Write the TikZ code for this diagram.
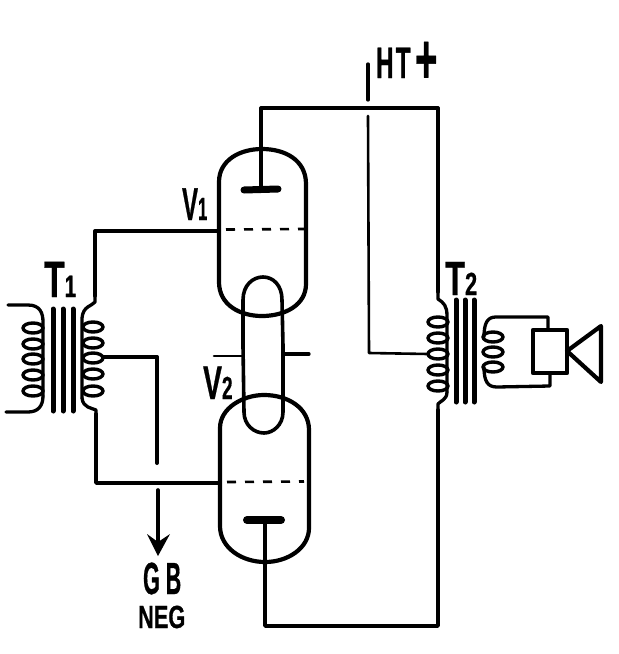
\documentclass[tikz,border=0pt]{standalone}
\usepackage{fontspec}
\usetikzlibrary{shapes.geometric}
\setmainfont{Liberation Sans}[BoldFeatures={FakeBold=0.8}]
\newcommand{\fs}[1]{\fontsize{#1}{#1}\selectfont}
\begin{document}
\begin{tikzpicture}[x=1pt,y=-1pt,line join=round,line cap=round,
  wire/.style={draw=black,line width=3.3pt},
  thin wire/.style={draw=black,line width=2.6pt},
  envelope/.style={draw=black,line width=4.2pt},
  electrode/.style={draw=black,line width=7pt,line cap=round},
  gridline/.style={draw=black,line width=2.6pt,dash pattern=on 9pt off 9pt,line cap=butt},
  corebar/.style={draw=black,line width=5pt},
  coilloop/.style={draw=black,line width=3.4pt,ellipse,inner sep=0pt,minimum width=20pt,minimum height=10pt},
  lab/.style={inner sep=0pt,anchor=base west,text=black}]
\useasboundingbox (0,0) rectangle (619,654);
\fill[white] (0,0) rectangle (619,654);

% named junctions
\coordinate (htTop) at (368,64);
\coordinate (htGapA) at (368,100);
\coordinate (htGapB) at (368,116);
\coordinate (htTap) at (369,353);
\coordinate (a1Top) at (261,108);
\coordinate (otTop) at (438,108);
\coordinate (otUp) at (438,292);
\coordinate (otLow) at (438,410);
\coordinate (otBot) at (438,626);
\coordinate (a2Bot) at (265,626);
\coordinate (g1In) at (219,231);
\coordinate (g1Cor) at (95,231);
\coordinate (itUp) at (95,296);
\coordinate (itLow) at (96,414);
\coordinate (g2Cor) at (96,483);
\coordinate (g2In) at (220,483);
\coordinate (tapCor) at (157,357);
\coordinate (tapEnd) at (157,463);
\coordinate (gbTop) at (158,490);
\coordinate (gbTip) at (158,550);

% valve V1
\draw[envelope] (219,182) .. controls (219,160) and (240,149) .. (262,149)
  .. controls (285,149) and (306,160) .. (306,184) -- (306,284)
  .. controls (306,305) and (285,316) .. (262,316)
  .. controls (240,316) and (219,305) .. (219,282) -- cycle;
\draw[electrode] (244,190) -- (278,189);
\draw[gridline] (226,229.5) -- (304,229);
% valve V2
\draw[envelope] (220,428) .. controls (220,408) and (243,395) .. (264,395)
  .. controls (288,395) and (309,408) .. (309,430) -- (309,528)
  .. controls (309,548) and (288,562) .. (265,562)
  .. controls (242,562) and (220,548) .. (220,526) -- cycle;
\draw[electrode,line width=8pt] (247,520) -- (281,520);
\draw[gridline] (227,482) -- (304,481.5);
% connecting tube
\draw[wire,line width=3.6pt] (243,346) -- (243,300) .. controls (243,285) and (253,277) .. (263,277)
  .. controls (273,277) and (282,285) .. (282,300) -- (283,346)
  -- (283,412) .. controls (283,425) and (273,433) .. (264,433)
  .. controls (254,433) and (244,425) .. (244,412) -- cycle;
\draw[thin wire] (214,356) -- (243,356);
\draw[wire] (283,354) -- (309,354);

% wires
\draw[wire] (a1Top) -- (otTop);
\draw[wire] (261,108) -- (261,188);
\draw[wire] (265,522) -- (265,562);
\draw[wire,line width=3.8pt] (265,562) -- (a2Bot) -- (otBot) -- (otLow);
\draw[wire] (otUp) -- (otTop);
\draw[wire] (htTop) -- (htGapA);
\draw[thin wire] (htGapB) -- (htTap) -- (428,354);
\draw[wire] (g1In) -- (g1Cor) -- (itUp);
\draw[wire,line width=3.8pt] (itLow) -- (g2Cor) -- (g2In);
\draw[wire] (103,357) -- (tapCor);
\draw[wire,line width=4pt] (tapCor) -- (tapEnd);
\draw[wire,line width=3.6pt] (gbTop) -- (gbTip);
\fill (158,556) -- (147,534) -- (158,542) -- (170,534) -- cycle;

% T1
\foreach \x in {53,63,73} \draw[corebar] (\x,309) -- (\x,411);
\draw[wire] (8,305) -- (28,305) .. controls (40,305) and (43,313) .. (43,322) -- (43,396);
\draw[wire] (43,396) .. controls (43,406) and (38,412) .. (28,412) -- (6,412);
\foreach \y in {328,344,359,375,391} \node[coilloop] at (33,\y) {};
\draw[wire] (itUp) -- (95,302) .. controls (92,306) and (83,306) .. (82,318) -- (82,398);
\draw[wire] (82,398) .. controls (83,408) and (92,408) .. (96,410) -- (itLow);
\foreach \y in {327,343,358,374,391} \node[coilloop] at (93,\y) {};

% T2
\foreach \x in {456,465,474} \draw[corebar] (\x,300) -- (\x,402);
\draw[wire] (otUp) -- (438,299) .. controls (444,303) and (447,306) .. (447,316) -- (447,392);
\draw[wire] (447,392) .. controls (447,400) and (440,401) .. (438,404) -- (otLow);
\foreach \y in {322,338,354,370,386} \node[coilloop] at (438,\y) {};
\foreach \y in {337,352,367} \node[coilloop] at (493,\y) {};
\draw[wire] (484,337) .. controls (484,322) and (488,317) .. (496,317) -- (548,317) -- (548,330);
\draw[wire] (484,367) .. controls (484,382) and (488,387) .. (497,387) -- (550,386) -- (550,373);
% loudspeaker
\draw[envelope] (533,330) rectangle (567,373);
\draw[envelope] (567,351) -- (601,326) -- (601,382) -- cycle;

% labels
\node[lab,xscale=.66] (lT1) at (44,297) {\bfseries\fs{51}T\fs{31}1};
\node[lab,xscale=.68] (lT2) at (445,295) {\bfseries\fs{48}T\fs{32}2};
\node[lab,xscale=.52] (lV1) at (182,220) {\bfseries\fs{46}V\fs{32}1};
\node[lab,xscale=.6] (lV2) at (203,399) {\bfseries\fs{47}V\fs{32}2};
\node[lab,xscale=.55] (lHT) at (376,78) {\bfseries\fs{44}H\kern4pt T\kern8pt\raisebox{-5pt}{\fs{70}+}};
\node[lab,xscale=.48] (lGB) at (143,594) {\bfseries\fs{45}G\kern12pt B};
\node[lab,xscale=.68] (lNEG) at (138,628) {\bfseries\fs{32}NEG};
\end{tikzpicture}
\end{document}
